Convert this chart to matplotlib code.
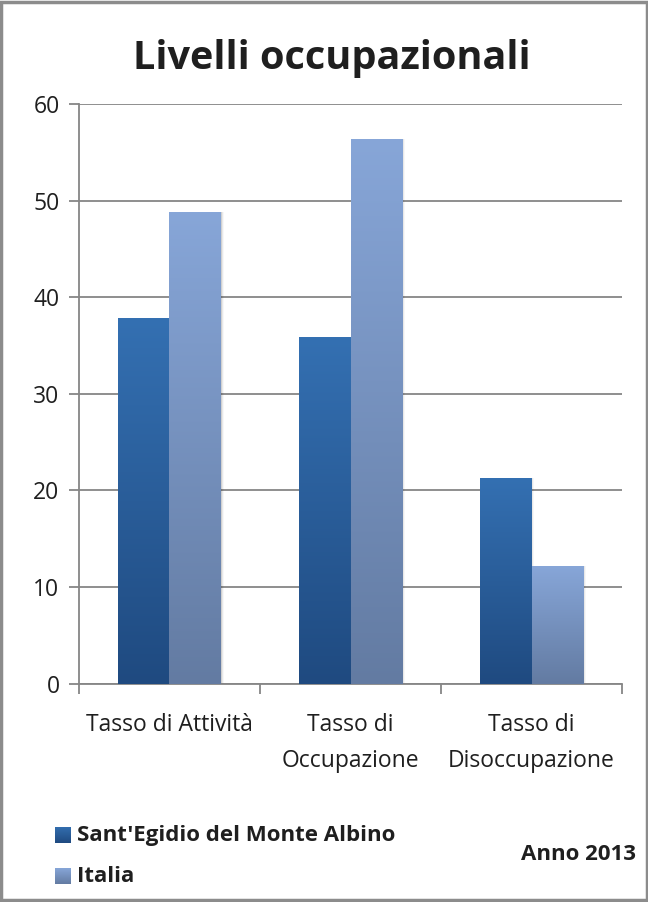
import numpy as np
import matplotlib.pyplot as plt
from matplotlib.patches import Rectangle
from matplotlib.colors import LinearSegmentedColormap

categorie = ['Tasso di Attività', 'Tasso di\nOccupazione', 'Tasso di\nDisoccupazione']
sant_egidio = [37.8, 35.9, 21.3]
italia = [48.8, 56.4, 12.2]
serie = ["Sant'Egidio del Monte Albino", 'Italia']
y_ticks = [0, 10, 20, 30, 40, 50, 60]

plt.rcParams['font.family'] = ['Open Sans', 'DejaVu Sans']
grigio = '#868686'
testo = '#1f1f1f'

W, H = 648, 902
fig = plt.figure(figsize=(W / 100, H / 100), dpi=100)
ax = fig.add_axes([0.1219, 0.2422, 0.8380, 0.6425])

# gradient per series: bottom colour -> top colour
cmaps = [LinearSegmentedColormap.from_list('sant', ['#1f4a80', '#3470b2']),
         LinearSegmentedColormap.from_list('ita', ['#637ba2', '#87a6d8'])]
grad = np.linspace(0, 1, 256).reshape(-1, 1)

x = np.arange(len(categorie))
width = 0.287
for k, vals in enumerate([sant_egidio, italia]):
    bars = ax.bar(x + (k - 0.5) * width, vals, width, color='none', zorder=3)
    for b in bars:
        x0, w, h = b.get_x(), b.get_width(), b.get_height()
        # soft shadow on the right of each bar
        for i, a in enumerate([0.10, 0.06, 0.03]):
            ax.add_patch(Rectangle((x0 + 0.004 * (i + 1), 0), w, h,
                                   color='black', alpha=a, lw=0, zorder=2))
        ax.imshow(grad, cmap=cmaps[k], origin='lower', aspect='auto',
                  extent=[x0, x0 + w, 0, h], zorder=3)

ax.set_xlim(-0.5, 2.5)
ax.set_ylim(0, 60)
ax.set_yticks(y_ticks)
ax.set_xticks(x)
ax.set_xticklabels(categorie, fontsize=16.5, color=testo, linespacing=1.7)
ax.set_xticks([-0.5, 0.5, 1.5, 2.5], minor=True)
ax.tick_params(axis='x', which='major', length=0, pad=21)
ax.tick_params(axis='x', which='minor', length=7, width=1.3, color=grigio)
ax.tick_params(axis='y', length=7, width=1.3, color=grigio, labelsize=16.5,
               labelcolor=testo, pad=7)

ax.yaxis.grid(True, color=grigio, lw=1.3)
ax.set_axisbelow(True)
for s in ['top', 'right']:
    ax.spines[s].set_visible(False)
for s in ['left', 'bottom']:
    ax.spines[s].set_color(grigio)
    ax.spines[s].set_linewidth(1.3)

fig.text(0.512, 1 - 58 / H, 'Livelli occupazionali', ha='center', va='center',
         fontsize=28.5, weight='bold', color=testo)

# legend: gradient squares with bold labels
for k, (nome, yc) in enumerate(zip(serie, [835, 876])):
    sq = fig.add_axes([55 / W, (H - yc - 8) / H, 16 / W, 16 / H])
    sq.imshow(grad, cmap=cmaps[k], origin='lower', aspect='auto')
    sq.axis('off')
    fig.text(77 / W, 1 - yc / H, nome, ha='left', va='center',
             fontsize=16, weight='bold', color=testo)

fig.text(636 / W, 1 - 855 / H, 'Anno 2013', ha='right', va='center',
         fontsize=16, weight='bold', color=testo)

fig.patches.append(Rectangle((0.002, 0.002), 0.996, 0.996, transform=fig.transFigure,
                             fill=False, edgecolor='#8c8c8c', lw=2.5))

fig.savefig('out.png', dpi=100)
